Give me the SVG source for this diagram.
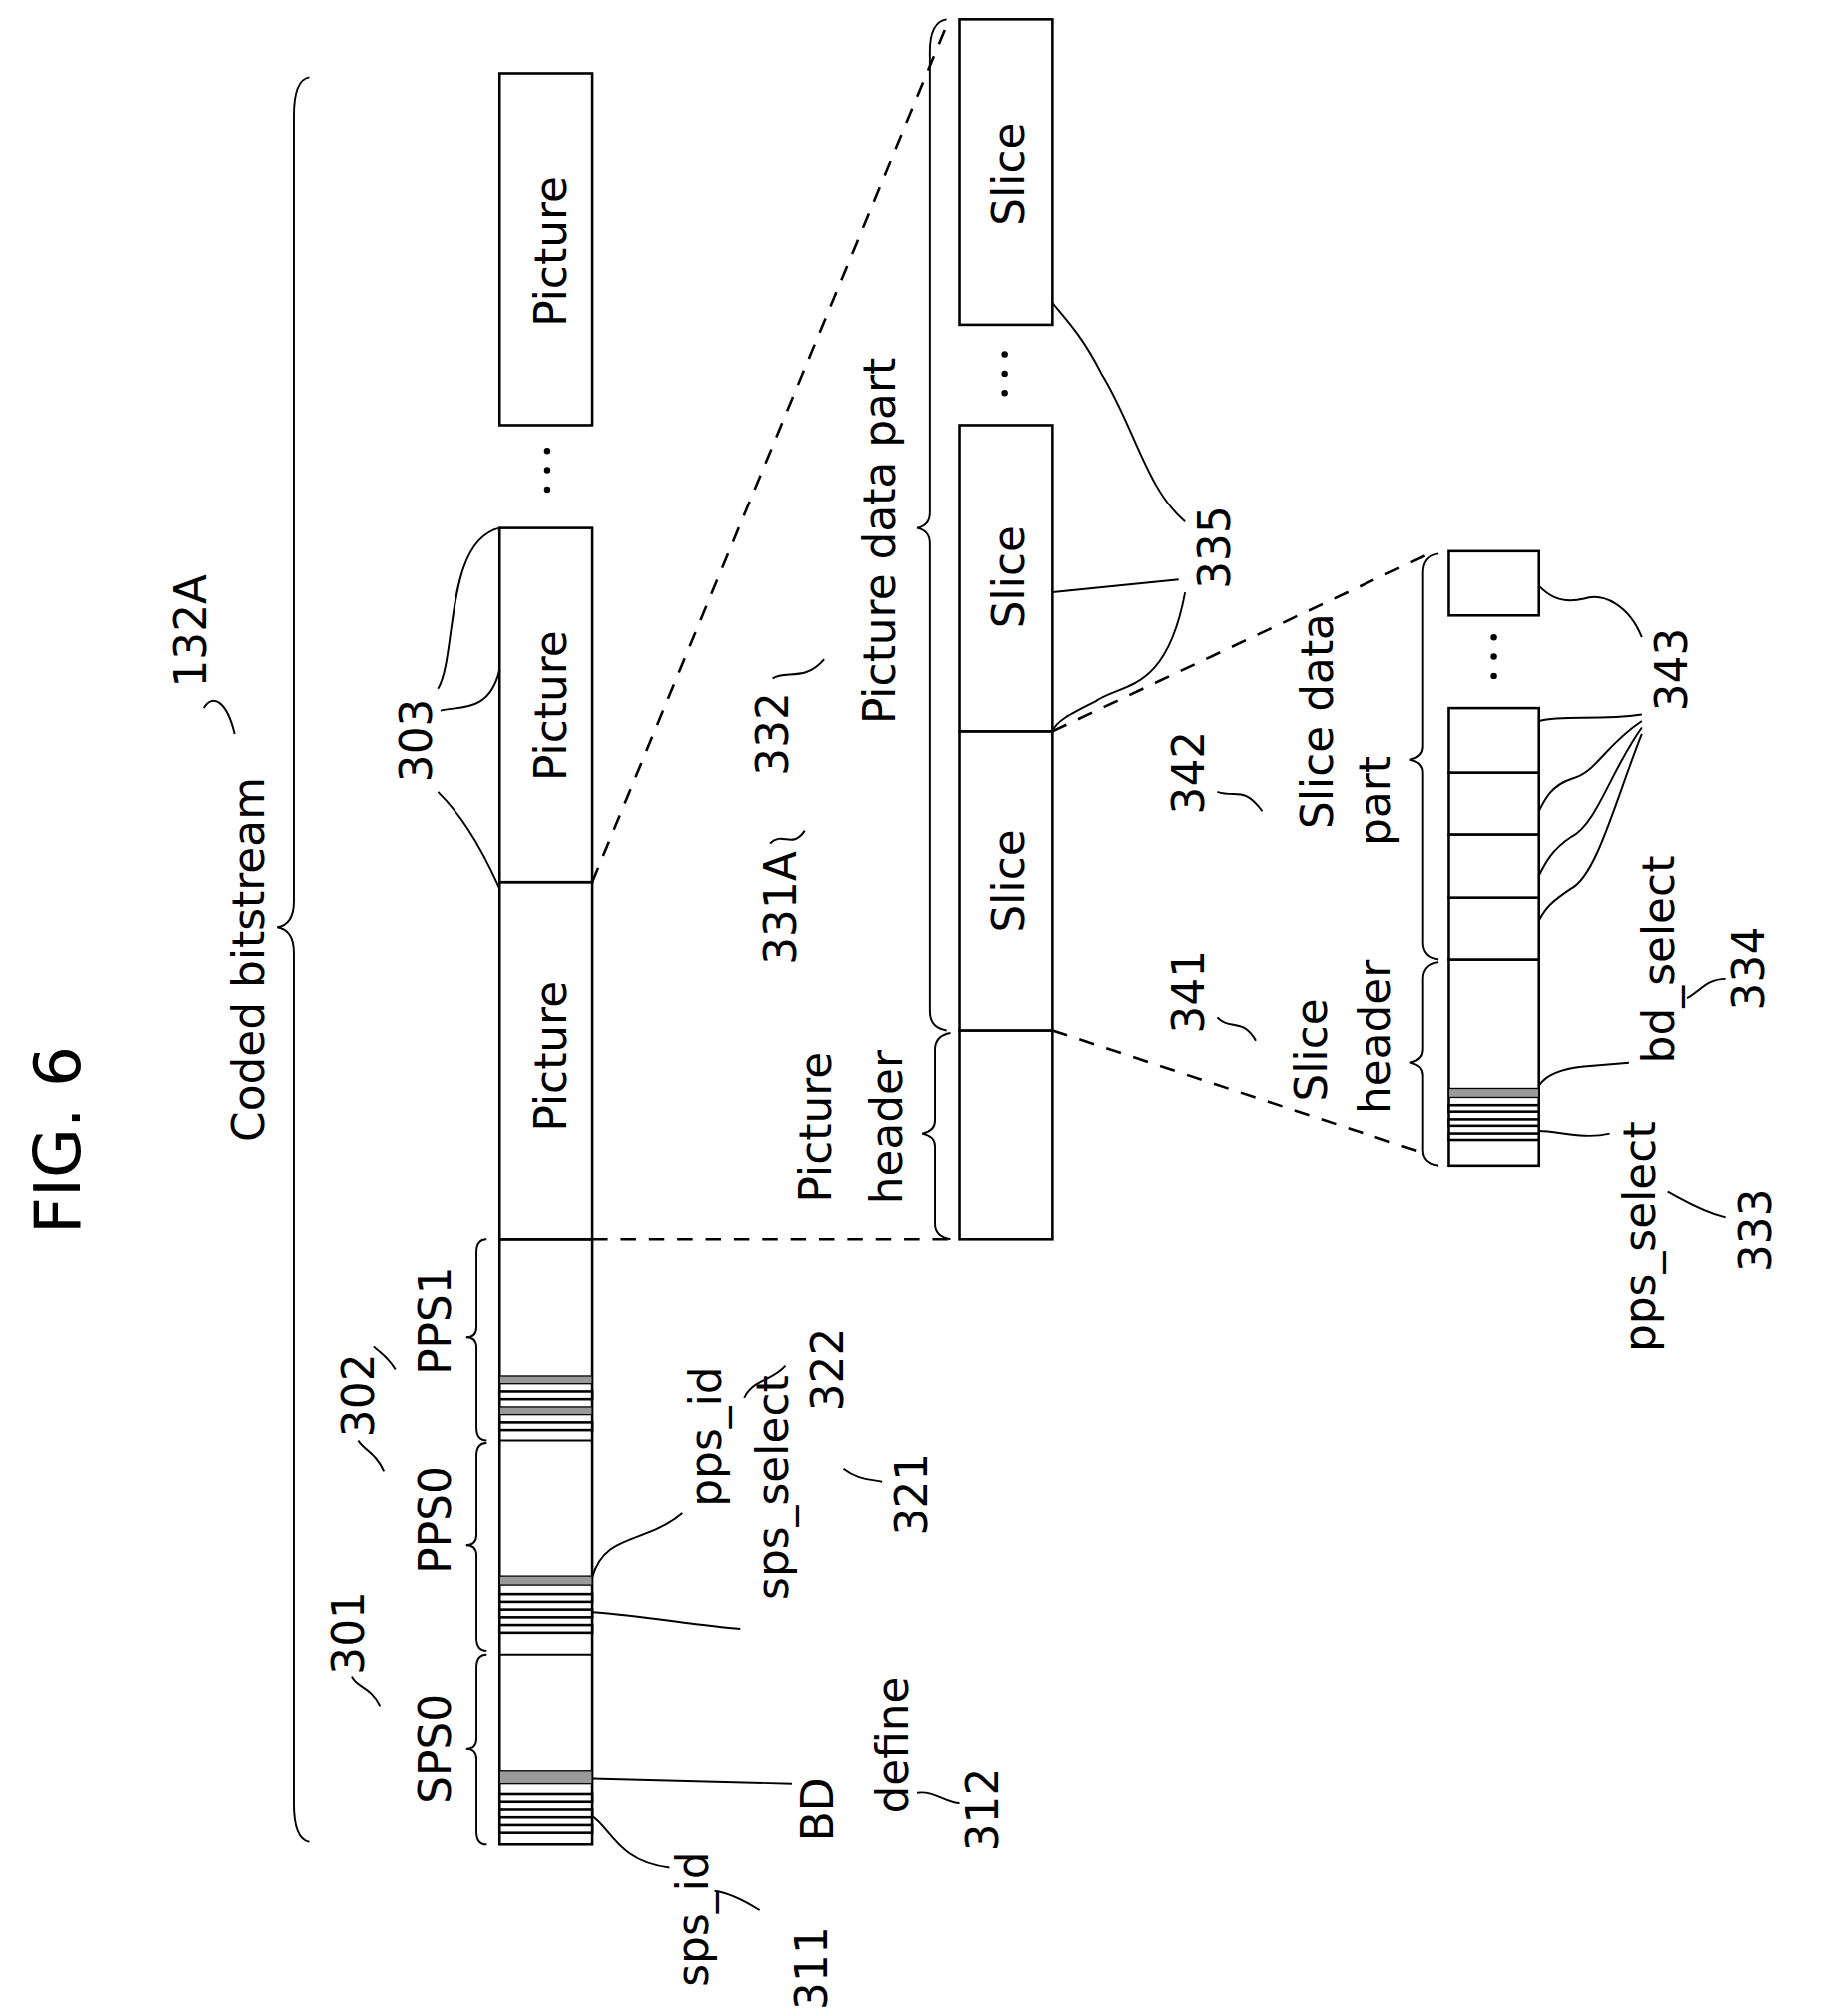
<svg xmlns="http://www.w3.org/2000/svg" width="1823" height="2018" viewBox="0 0 1823 2018">
<style>
text{font-family:"DejaVu Sans","Liberation Sans",sans-serif;font-size:34px;fill:#000;text-anchor:middle}
.b{fill:#fff;stroke:#000;stroke-width:2}
.l{fill:none;stroke:#000;stroke-width:1.5}
.d{fill:none;stroke:#000;stroke-width:2;stroke-dasharray:12 10}
.s{stroke:#000;stroke-width:1.5}
.dot{fill:#999;stroke:#000;stroke-width:1}
</style>
<rect width="1823" height="2018" fill="#fff"/>
<g transform="scale(1.2893)">
<g id="titles">
<text transform="translate(62,885) rotate(-90)" style="font-size:50px">FIG. 6</text>
<text transform="translate(205,745) rotate(-90)">Coded bitstream</text>
<text transform="translate(160,490) rotate(-90)">132A</text>
<path class="l" d="M158,550 C165,538 176,545 182,570"/>
<path class="l" d="M240,60 Q228,62 228,90 L228,700 Q228,718 215,720 Q228,722 228,740 L228,1400 Q228,1428 240,1430"/>
</g>
<g id="bar1">
<rect class="b" x="388" y="962" width="72" height="470"/>
<line class="s" x1="388" y1="1285" x2="460" y2="1285"/>
<line class="s" x1="388" y1="1118" x2="460" y2="1118"/>
<rect class="dot" x="388" y="1375" width="72" height="10"/>
<rect class="b" x="388" y="1393" width="72" height="6"/><rect class="b" x="388" y="1405" width="72" height="6"/><rect class="b" x="388" y="1417" width="72" height="6"/>
<rect class="dot" x="388" y="1224" width="72" height="7"/>
<rect class="b" x="388" y="1238" width="72" height="6"/><rect class="b" x="388" y="1250" width="72" height="6"/><rect class="b" x="388" y="1262" width="72" height="6"/>
<rect class="dot" x="388" y="1068" width="72" height="6"/>
<rect class="b" x="388" y="1080" width="72" height="6"/><rect class="dot" x="388" y="1092" width="72" height="6"/><rect class="b" x="388" y="1104" width="72" height="6"/>
<rect class="b" x="388" y="685" width="72" height="277"/>
<rect class="b" x="388" y="410" width="72" height="275"/>
<rect class="b" x="388" y="57" width="72" height="273"/>
<text transform="translate(440,820) rotate(-90)">Picture</text>
<text transform="translate(440,548) rotate(-90)">Picture</text>
<text transform="translate(440,195) rotate(-90)">Picture</text>
<circle cx="425" cy="350" r="2.5"/><circle cx="425" cy="365" r="2.5"/><circle cx="425" cy="380" r="2.5"/>
</g>
<g id="labels1">
<path class="l" d="M378,962 Q370,962 370,972 L370,1030 Q370,1038 362,1038 Q370,1038 370,1046 L370,1108 Q370,1118 378,1118"/>
<path class="l" d="M378,1120 Q370,1120 370,1130 L370,1192 Q370,1200 362,1200 Q370,1200 370,1208 L370,1272 Q370,1282 378,1282"/>
<path class="l" d="M378,1285 Q370,1285 370,1295 L370,1350 Q370,1358 362,1358 Q370,1358 370,1366 L370,1422 Q370,1432 378,1432"/>
<text transform="translate(350,1358) rotate(-90)">SPS0</text>
<text transform="translate(282,1268) rotate(-90)">301</text>
<path class="l" d="M273,1302 C276,1310 288,1310 295,1325"/>
<text transform="translate(350,1180) rotate(-90)">PPS0</text>
<text transform="translate(290,1083) rotate(-90)">302</text>
<path class="l" d="M278,1118 C282,1125 292,1128 298,1142"/>
<path class="l" d="M307,1063 C300,1052 295,1050 290,1045"/>
<text transform="translate(350,1025) rotate(-90)">PPS1</text>
<text transform="translate(335,575) rotate(-90)">303</text>
<path class="l" d="M340,535 C355,510 345,420 388,410"/>
<path class="l" d="M342,552 C355,548 380,555 388,520"/>
<path class="l" d="M340,615 C355,630 370,650 388,690"/>
<text transform="translate(550,1490) rotate(-90)">sps_id</text>
<path class="l" d="M460,1410 C475,1420 480,1445 520,1450"/>
<text transform="translate(642,1528) rotate(-90)">311</text>
<path class="l" d="M555,1468 C570,1470 585,1480 590,1483"/>
<text transform="translate(647,1405) rotate(-90)">BD</text>
<text transform="translate(705,1355) rotate(-90)">define</text>
<path class="l" d="M460,1381 L615,1385"/>
<text transform="translate(775,1405) rotate(-90)">312</text>
<path class="l" d="M712,1392 C725,1390 735,1400 745,1400"/>
<text transform="translate(612,1155) rotate(-90)">sps_select</text>
<path class="l" d="M460,1252 C500,1255 540,1262 575,1265"/>
<text transform="translate(720,1160) rotate(-90)">321</text>
<path class="l" d="M655,1140 C665,1148 675,1148 685,1150"/>
<text transform="translate(560,1115) rotate(-90)">pps_id</text>
<path class="l" d="M460,1225 C470,1190 500,1200 530,1175"/>
<text transform="translate(655,1063) rotate(-90)">322</text>
<path class="l" d="M578,1085 C585,1070 600,1072 610,1060"/>
</g>
<g id="connectors">
<line class="d" x1="460" y1="685" x2="737" y2="15"/>
<line class="d" x1="460" y1="962" x2="745" y2="962"/>
<line class="d" x1="817" y1="800" x2="1105" y2="895"/>
<line class="d" x1="817" y1="568" x2="1110" y2="430"/>
</g>
<g id="bar2">
<rect class="b" x="745" y="800" width="72" height="162"/>
<rect class="b" x="745" y="568" width="72" height="232"/>
<rect class="b" x="745" y="330" width="72" height="238"/>
<rect class="b" x="745" y="15" width="72" height="237"/>
<text transform="translate(795,684) rotate(-90)">Slice</text>
<text transform="translate(795,448) rotate(-90)">Slice</text>
<text transform="translate(795,135) rotate(-90)">Slice</text>
<circle cx="780" cy="275" r="2.5"/><circle cx="780" cy="290" r="2.5"/><circle cx="780" cy="305" r="2.5"/>
<path class="l" d="M735,15 Q722,17 722,40 L722,398 Q722,408 712,410 Q722,412 722,422 L722,785 Q722,798 735,800"/>
<path class="l" d="M738,802 Q726,804 726,815 L726,870 Q726,878 716,880 Q726,882 726,890 L726,950 Q726,960 738,962"/>
<text transform="translate(695,420) rotate(-90)">Picture data part</text>
<text transform="translate(612,570) rotate(-90)">332</text>
<path class="l" d="M600,527 C610,520 625,530 640,512"/>
<text transform="translate(645,875) rotate(-90)">Picture</text>
<text transform="translate(700,875) rotate(-90)">header</text>
<text transform="translate(618,705) rotate(-90)">331A</text>
<path class="l" d="M598,655 C608,645 615,660 625,645"/>
<text transform="translate(955,425) rotate(-90)">335</text>
<path class="l" d="M920,405 C890,380 880,330 855,290 C840,260 825,245 817,235"/>
<path class="l" d="M915,450 L817,460"/>
<path class="l" d="M920,460 C905,540 870,530 850,545 C830,555 820,560 817,568"/>
</g>
<g id="bar3">
<rect class="b" x="1125" y="745" width="70" height="160"/>
<rect class="dot" x="1125" y="845" width="70" height="7"/>
<rect class="b" x="1125" y="858" width="70" height="5"/>
<rect class="b" x="1125" y="869" width="70" height="5"/>
<rect class="b" x="1125" y="880" width="70" height="5"/>
<rect class="b" x="1125" y="697" width="70" height="48"/>
<rect class="b" x="1125" y="648" width="70" height="49"/>
<rect class="b" x="1125" y="600" width="70" height="48"/>
<rect class="b" x="1125" y="550" width="70" height="50"/>
<rect class="b" x="1125" y="428" width="70" height="50"/>
<circle cx="1160" cy="495" r="2.5"/><circle cx="1160" cy="510" r="2.5"/><circle cx="1160" cy="525" r="2.5"/>
<path class="l" d="M1117,430 Q1105,432 1105,445 L1105,580 Q1105,588 1095,590 Q1105,592 1105,600 L1105,732 Q1105,743 1117,745"/>
<path class="l" d="M1117,747 Q1105,749 1105,760 L1105,815 Q1105,823 1095,825 Q1105,827 1105,835 L1105,893 Q1105,903 1117,905"/>
<text transform="translate(935,770) rotate(-90)">341</text>
<path class="l" d="M945,790 C955,800 965,790 975,808"/>
<text transform="translate(1030,815) rotate(-90)">Slice</text>
<text transform="translate(1080,805) rotate(-90)">header</text>
<text transform="translate(935,600) rotate(-90)">342</text>
<path class="l" d="M945,615 C960,620 965,610 980,630"/>
<text transform="translate(1035,560) rotate(-90)">Slice data</text>
<text transform="translate(1080,622) rotate(-90)">part</text>
<text transform="translate(1310,520) rotate(-90)">343</text>
<path class="l" d="M1275,495 C1265,470 1245,460 1230,465 C1210,470 1200,460 1195,455"/>
<path class="l" d="M1275,555 C1240,560 1215,555 1195,560"/>
<path class="l" d="M1275,560 C1245,580 1240,600 1220,605 C1205,610 1200,620 1195,630"/>
<path class="l" d="M1275,565 C1250,600 1240,640 1220,650 C1205,660 1200,670 1195,680"/>
<path class="l" d="M1275,570 C1255,620 1240,680 1220,690 C1205,700 1200,705 1195,715"/>
<text transform="translate(1300,745) rotate(-90)">bd_select</text>
<path class="l" d="M1265,825 L1230,828 C1210,830 1200,835 1195,843"/>
<text transform="translate(1370,752) rotate(-90)">334</text>
<path class="l" d="M1310,775 C1320,770 1325,760 1340,760"/>
<text transform="translate(1285,960) rotate(-90)">pps_select</text>
<path class="l" d="M1250,880 C1230,885 1210,878 1195,878"/>
<text transform="translate(1375,955) rotate(-90)">333</text>
<path class="l" d="M1295,925 C1305,930 1320,940 1340,945"/>
</g>
</g>
</svg>
